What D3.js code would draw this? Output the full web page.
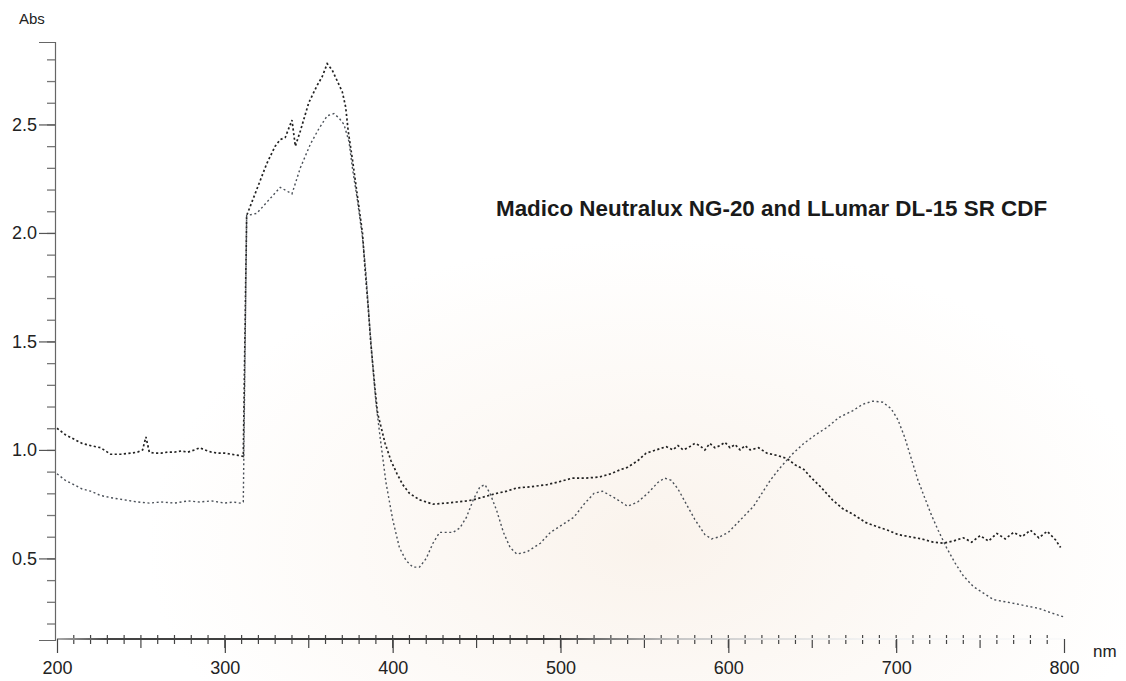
<!DOCTYPE html>
<html lang="en">
<head>
<meta charset="utf-8">
<script src="https://cdn.jsdelivr.net/npm/d3@7"></script>
<style>
body { margin: 0; background: #fff; }
svg { display: block; font-family: "Liberation Sans", Arial, sans-serif; }
.tick text { fill: #222; }
.title { font-weight: bold; fill: #1a1a1a; }
</style>
</head>
<body>
<div id="chart"></div>
<script>
// wavelength (nm) and absorbance
var nmA = [200,205,210,215,220,226,232,238,244,248,251,253,255,258,262,266,270,274,278,282,285,288,292,296,300,304,308,311,
  313,315,320,325,330,333,336,340,342,345,350,355,358,361,364,367,370,372,373.5,376,379,382,383.5,385.5,387,389.5,391,395.5,399,402.6,
  406,410,416,424,432,438,444,448,455,462,468,474,482,492,500,507,515,523,530,536,540,546,551,557,563,567,570,573,576,580,
  583,586,589,592,595,598,601,604,607,610,613,618,623,629,635,640,645,649,655,662,668,675,682,689,695,701,708,715,722,728,
  734,740,745,750,755,760,765,770,775,780,785,790,795,798];
var absA = [1.10,1.07,1.05,1.03,1.02,1.01,0.98,0.98,0.985,0.99,1.00,1.06,0.99,0.985,0.985,0.99,0.99,0.995,0.99,1.00,1.01,1.00,0.99,0.985,0.985,0.98,0.975,0.97,
  2.08,2.12,2.22,2.32,2.40,2.43,2.44,2.52,2.40,2.47,2.60,2.68,2.72,2.78,2.75,2.70,2.65,2.58,2.47,2.34,2.17,2.00,1.84,1.65,1.49,1.28,1.17,1.03,0.95,0.89,
  0.84,0.80,0.77,0.75,0.755,0.76,0.765,0.77,0.785,0.80,0.81,0.825,0.83,0.84,0.855,0.87,0.87,0.875,0.89,0.91,0.92,0.95,0.985,1.00,1.015,1.00,1.02,1.00,1.01,1.03,
  1.02,1.00,1.03,1.01,1.02,1.035,1.01,1.025,1.00,1.02,1.00,1.01,0.985,0.975,0.96,0.93,0.91,0.875,0.83,0.77,0.73,0.70,0.665,0.645,0.63,0.61,0.60,0.59,0.575,0.57,
  0.58,0.595,0.575,0.605,0.58,0.615,0.59,0.62,0.60,0.63,0.595,0.625,0.585,0.55];

var nmB = [200,205,210,215,220,226,232,240,248,255,262,270,278,285,292,300,305,309,311,
  313,319,326,333,340,345,351,356,361,365,368,371,374,376,379,382,384,386,388,390,
  392.5,396,400,404,408,412,416,420,424,428,436,440,444,448,452,455,458,462,466,470,
  474,480,488,494,500,508,514,520,525,532,540,546,552,558,562,566,570,575,580,586,
  590,595,600,605,610,615,620,625,630,638,645,652,659,666,674,680,686,692,697,701,
  705,709,713,717,721,725,730,735,740,746,752,758,765,772,778,785,792,800];
var absB = [0.89,0.86,0.84,0.82,0.81,0.79,0.78,0.77,0.76,0.755,0.76,0.755,0.765,0.76,0.765,0.755,0.76,0.755,0.76,
  2.08,2.09,2.15,2.21,2.18,2.30,2.41,2.48,2.54,2.55,2.53,2.50,2.42,2.30,2.15,1.98,1.82,1.60,1.40,1.22,
  1.06,0.85,0.68,0.55,0.49,0.46,0.46,0.50,0.57,0.62,0.62,0.64,0.69,0.77,0.83,0.84,0.80,0.72,0.62,0.55,
  0.52,0.53,0.57,0.62,0.65,0.69,0.75,0.80,0.81,0.78,0.74,0.76,0.80,0.85,0.87,0.86,0.82,0.75,0.68,0.61,
  0.59,0.60,0.62,0.66,0.70,0.74,0.80,0.86,0.91,0.98,1.03,1.07,1.105,1.15,1.18,1.21,1.225,1.22,1.19,1.14,
  1.06,0.96,0.86,0.78,0.70,0.63,0.55,0.48,0.42,0.37,0.34,0.31,0.30,0.29,0.28,0.27,0.25,0.23];

var xMajor = [200,300,400,500,600,700,800];
var yMajor = [0.5,1.0,1.5,2.0,2.5];
var titleText = "Madico Neutralux NG-20 and LLumar DL-15 SR CDF";

var W = 1126, H = 681;
var x = d3.scaleLinear().domain([200, 800]).range([57, 1064]);
var y = d3.scaleLinear().domain([0.124, 2.88]).range([640, 42]);
var y0 = 639;

var svg = d3.select("#chart").append("svg")
    .attr("width", W)
    .attr("height", H);

var defs = svg.append("defs");
var paper = defs.append("radialGradient").attr("id", "paper")
    .attr("cx", "58%").attr("cy", "80%").attr("r", "45%");
paper.append("stop").attr("offset", "0%").attr("stop-color", "#faf3ec");
paper.append("stop").attr("offset", "100%").attr("stop-color", "#ffffff");

var xfade = defs.append("linearGradient").attr("id", "xfade")
    .attr("gradientUnits", "userSpaceOnUse")
    .attr("x1", 57).attr("x2", 1064).attr("y1", 0).attr("y2", 0);
xfade.append("stop").attr("offset", "0%").attr("stop-color", "#aaa");
xfade.append("stop").attr("offset", "5%").attr("stop-color", "#444");
xfade.append("stop").attr("offset", "48%").attr("stop-color", "#333");
xfade.append("stop").attr("offset", "62%").attr("stop-color", "#c8c8c8");
xfade.append("stop").attr("offset", "80%").attr("stop-color", "#f2f2f2");
xfade.append("stop").attr("offset", "100%").attr("stop-color", "#fafafa");

svg.append("rect").attr("width", W).attr("height", H).attr("fill", "url(#paper)");

// y axis: minor ticks every 0.1, labelled majors every 0.5
svg.append("g")
    .attr("transform", "translate(55,0)")
    .call(d3.axisLeft(y).tickValues(d3.range(2, 29).map(function(d) { return d / 10; }))
      .tickSize(8).tickFormat(""))
    .call(function(g) {
      g.select(".domain").remove();
      g.selectAll(".tick line").attr("stroke", "#777").attr("stroke-width", 1.3);
    });

svg.append("g")
    .attr("transform", "translate(55,0)")
    .call(d3.axisLeft(y).tickValues(yMajor).tickSize(16).tickPadding(2)
      .tickFormat(d3.format(".1f")))
    .call(function(g) {
      g.select(".domain").attr("stroke", "#666").attr("stroke-width", 1.2);
      g.selectAll(".tick line").attr("stroke", "#555").attr("stroke-width", 1.2);
      g.selectAll(".tick text").attr("font-size", 18);
    });

// x axis: small ticks every 10 nm, labels every 100 nm
svg.append("g")
    .attr("transform", "translate(0," + y0 + ")")
    .selectAll("line")
    .data(d3.range(210, 800, 10))
    .enter().append("line")
      .attr("x1", function(d) { return x(d); })
      .attr("x2", function(d) { return x(d); })
      .attr("y1", -4)
      .attr("y2", function(d) { return d % 50 === 0 ? 9 : 5; })
      .attr("stroke", "#444")
      .attr("stroke-width", 1.2);

svg.append("g")
    .attr("transform", "translate(0," + y0 + ")")
    .call(d3.axisBottom(x).tickValues(xMajor).tickSize(14).tickPadding(8)
      .tickFormat(d3.format("d")))
    .call(function(g) {
      g.select(".domain").attr("d", "M" + x(200) + ",0H" + x(800))
        .attr("stroke", "url(#xfade)").attr("stroke-width", 1.8);
      g.selectAll(".tick line").attr("stroke", "#444").attr("stroke-width", 1.2);
      g.selectAll(".tick text").attr("font-size", 18);
    });

svg.append("text").attr("x", 19).attr("y", 24)
    .attr("font-size", 15).attr("fill", "#222").text("Abs");
svg.append("text").attr("x", 1093).attr("y", 657)
    .attr("font-size", 17).attr("fill", "#222").text("nm");

svg.append("text").attr("class", "title")
    .attr("x", 496).attr("y", 216)
    .attr("font-size", 22.4)
    .text(titleText);

var line = d3.line()
    .x(function(d) { return x(d[0]); })
    .y(function(d) { return y(d[1]); });

svg.append("path")
    .datum(d3.zip(nmB, absB))
    .attr("d", line)
    .attr("fill", "none")
    .attr("stroke", "#4a5058")
    .attr("stroke-width", 1.4)
    .attr("stroke-dasharray", "2,2.6");

svg.append("path")
    .datum(d3.zip(nmA, absA))
    .attr("d", line)
    .attr("fill", "none")
    .attr("stroke", "#222")
    .attr("stroke-width", 1.7)
    .attr("stroke-dasharray", "2.2,2.4");
</script>
</body>
</html>
